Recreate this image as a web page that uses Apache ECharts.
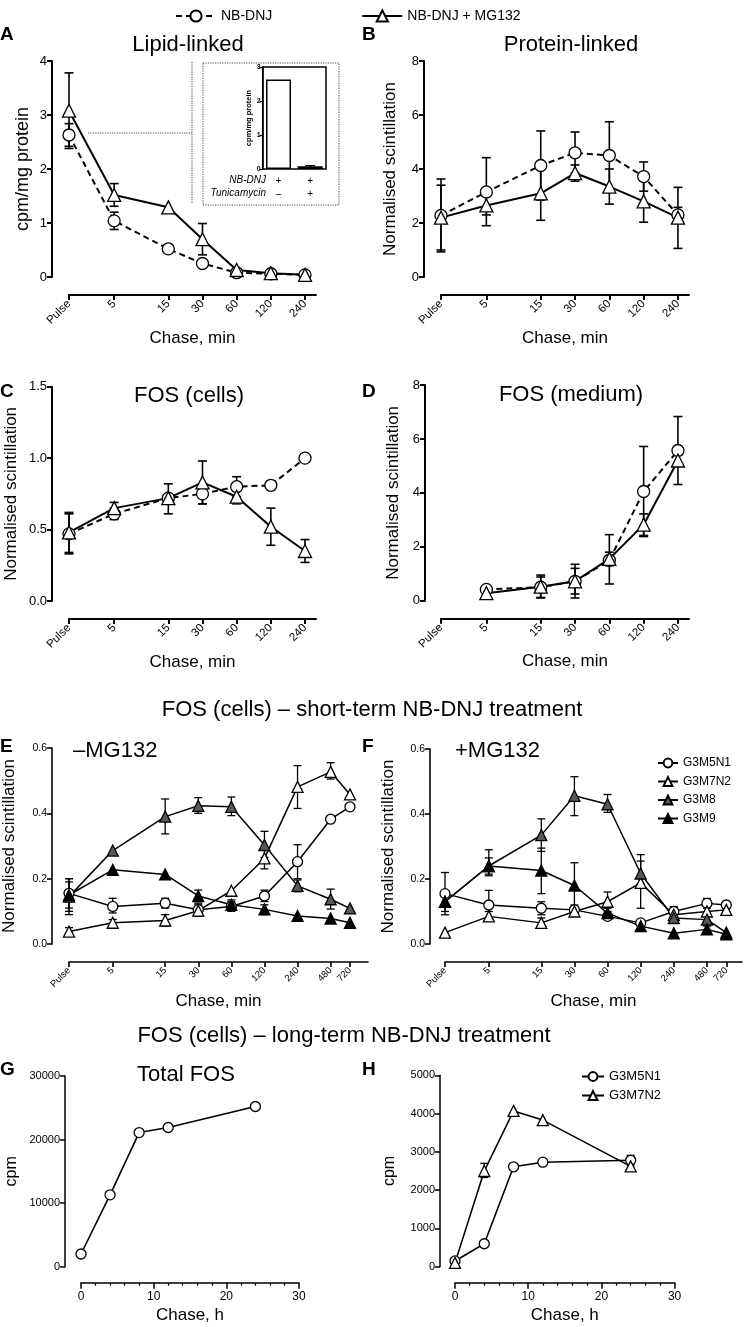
<!DOCTYPE html>
<html><head><meta charset="utf-8">
<script src="https://cdn.jsdelivr.net/npm/echarts@6/dist/echarts.min.js"></script>
<style>html,body{margin:0;padding:0;background:#fff}#c{width:744px;height:1327px}</style>
</head><body><div id="c"></div>
<script>
const FF = '"Liberation Sans", Arial, sans-serif';

// ---- time axes (minutes; "Pulse" is placed at 2 min on the log axis) ----
const chaseMin7 = [2, 5, 15, 30, 60, 120, 240];
const chaseLabels7 = ['Pulse', '5', '15', '30', '60', '120', '240'];
const chaseMin9 = [2, 5, 15, 30, 60, 120, 240, 480, 720];
const chaseLabels9 = ['Pulse', '5', '15', '30', '60', '120', '240', '480', '720'];

// ---- A: Lipid-linked ----
const lipidNB = [2.63, 1.04, 0.52, 0.25, 0.08, 0.06, 0.04];
const lipidNBErr = [[2.42, 2.84], [0.88, 1.2], [0.45, 0.59], [0.2, 0.3], null, null, null];
const lipidMG = [3.08, 1.52, 1.29, 0.70, 0.13, 0.07, 0.04];
const lipidMGErr = [[2.38, 3.78], [1.31, 1.73], null, [0.41, 0.99], null, null, null];
// inset
const insetNBDNJ = ['+', '+'];
const insetTunicamycin = ['–', '+'];
const insetValues = [2.63, 0.08];
const insetErr = [null, [0.06, 0.1]];

// ---- B: Protein-linked ----
const proteinNB = [2.28, 3.15, 4.13, 4.60, 4.50, 3.72, 2.30];
const proteinNBErr = [[0.93, 3.63], [1.9, 4.42], [2.85, 5.41], [3.85, 5.37], [3.25, 5.75], [3.18, 4.26], [2.02, 2.58]];
const proteinMG = [2.2, 2.65, 3.1, 3.85, 3.35, 2.8, 2.2];
const proteinMGErr = [[1.0, 3.4], [2.3, 3.0], [2.1, 4.1], [3.55, 4.15], [2.7, 4.0], [2.03, 3.57], [1.06, 3.32]];

// ---- C: FOS (cells) ----
const fosCellNB = [0.47, 0.61, 0.72, 0.75, 0.80, 0.81, 1.00];
const fosCellNBErr = [[0.33, 0.61], [0.57, 0.65], [0.70, 0.74], [0.68, 0.82], [0.73, 0.87], [0.78, 0.84], null];
const fosCellMG = [0.48, 0.65, 0.72, 0.83, 0.73, 0.52, 0.35];
const fosCellMGErr = [[0.34, 0.62], [0.60, 0.69], [0.61, 0.82], [0.68, 0.98], [0.68, 0.78], [0.39, 0.65], [0.27, 0.43]];

// ---- D: FOS (medium) ----
const fosMedNB = [null, 0.42, 0.50, 0.72, 1.50, 4.05, 5.57];
const fosMedNBErr = [null, null, [0.12, 0.88], [0.1, 1.35], [0.62, 2.45], [2.38, 5.72], [4.31, 6.83]];
const fosMedMG = [null, 0.28, 0.52, 0.72, 1.55, 2.82, 5.2];
const fosMedMGErr = [null, null, [0.1, 0.95], [0.25, 1.2], [1.3, 1.8], [2.42, 3.22], [5.0, 5.4]];

// ---- E: short-term, -MG132 ----
const e5N1 = [0.155, 0.115, 0.125, 0.105, 0.115, 0.147, 0.252, 0.382, 0.42];
const e5N1Err = [[0.11, 0.2], [0.095, 0.14], [0.11, 0.14], [0.085, 0.125], [0.1, 0.13], [0.13, 0.165], [0.2, 0.304], null, null];
const e7N2 = [0.038, 0.065, 0.072, 0.102, 0.163, 0.262, 0.481, 0.527, 0.458];
const e7N2Err = [[0.025, 0.05], [0.055, 0.075], [0.055, 0.09], [0.085, 0.12], null, [0.23, 0.29], [0.415, 0.546], [0.505, 0.555], null];
const e8 = [0.145, 0.286, 0.39, 0.423, 0.42, 0.303, 0.178, 0.137, 0.109];
const e8Err = [[0.1, 0.19], null, [0.337, 0.444], [0.4, 0.448], [0.393, 0.45], [0.265, 0.345], [0.16, 0.196], [0.107, 0.168], null];
const e9 = [0.15, 0.227, 0.213, 0.147, 0.12, 0.106, 0.086, 0.078, 0.065];
const e9Err = [[0.09, 0.2], null, null, [0.13, 0.165], [0.105, 0.135], [0.09, 0.12], null, null, null];

// ---- F: short-term, +MG132 ----
const f5N1 = [0.155, 0.12, 0.11, 0.105, 0.085, 0.065, 0.1, 0.125, 0.12];
const f5N1Err = [[0.09, 0.22], [0.075, 0.165], [0.09, 0.13], [0.09, 0.12], null, null, [0.085, 0.115], [0.11, 0.14], null];
const f7N2 = [0.035, 0.085, 0.065, 0.1, 0.13, 0.188, 0.09, 0.1, 0.105];
const f7N2Err = [null, [0.07, 0.1], [0.05, 0.08], [0.085, 0.115], [0.1, 0.16], [0.11, 0.255], [0.08, 0.11], [0.09, 0.12], null];
const f8 = [0.13, 0.24, 0.335, 0.456, 0.43, 0.217, 0.08, 0.075, 0.035];
const f8Err = [null, [0.21, 0.29], [0.285, 0.385], [0.395, 0.515], [0.405, 0.46], [0.185, 0.275], null, null, null];
const f9 = [0.13, 0.24, 0.226, 0.18, 0.095, 0.055, 0.033, 0.045, 0.03];
const f9Err = [[0.1, 0.16], [0.215, 0.265], [0.155, 0.295], [0.11, 0.25], [0.08, 0.11], [0.045, 0.065], null, [0.035, 0.055], null];

// ---- G / H: long-term ----
const chaseHours = [0, 4, 8, 12, 24];
const totalFOS = [2000, 11300, 21100, 21900, 25200];
const h5N1 = [150, 600, 2610, 2730, 2780];
const h5N1Err = [null, null, null, null, [2650, 2910]];
const h7N2 = [100, 2500, 4070, 3830, 2620];
const h7N2Err = [null, [2330, 2700], null, null, null];

// ================= helpers =================
function pairs(xs, ys) {
  const d = [];
  xs.forEach((x, i) => { if (ys[i] != null) d.push([x, ys[i]]); });
  return d;
}
function lineS(name, ax, xs, ys, symbol, size, fill, dashed, lw) {
  return {
    type: 'line', name, xAxisIndex: ax, yAxisIndex: ax, data: pairs(xs, ys),
    symbol, symbolSize: size, showAllSymbol: true, z: 3,
    itemStyle: { color: fill, borderColor: '#000', borderWidth: 1.3, opacity: 1 },
    lineStyle: { color: '#000', width: lw, type: dashed ? [6, 4] : 'solid' },
    emphasis: { disabled: true }
  };
}
function errS(ax, xs, errs, capW, lw) {
  const d = [];
  xs.forEach((x, i) => { if (errs[i]) d.push([x, errs[i][0], errs[i][1]]); });
  return {
    type: 'custom', xAxisIndex: ax, yAxisIndex: ax, data: d, z: 1, silent: true,
    encode: { x: 0, y: [1, 2] },
    renderItem(params, api) {
      const x = api.value(0);
      const lo = api.coord([x, api.value(1)]);
      const hi = api.coord([x, api.value(2)]);
      const w = capW / 2, st = { stroke: '#000', lineWidth: lw };
      return { type: 'group', children: [
        { type: 'line', shape: { x1: lo[0], y1: lo[1], x2: hi[0], y2: hi[1] }, style: st },
        { type: 'line', shape: { x1: lo[0] - w, y1: lo[1], x2: lo[0] + w, y2: lo[1] }, style: st },
        { type: 'line', shape: { x1: hi[0] - w, y1: hi[1], x2: hi[0] + w, y2: hi[1] }, style: st }
      ] };
    }
  };
}
function logX(grid, ticks, labels, max, fs, lw) {
  const map = {};
  ticks.forEach((t, i) => map[t] = labels[i]);
  return {
    type: 'log', logBase: 2, gridIndex: grid, min: 2, max, offset: 18,
    name: 'Chase, min', nameLocation: 'middle', nameGap: grid >= 4 ? 28 : 25,
    nameTextStyle: { fontSize: 17, color: '#000', fontFamily: FF },
    axisLine: { show: true, onZero: false, lineStyle: { color: '#000', width: lw } },
    axisTick: { show: true, customValues: ticks, length: 5, lineStyle: { color: '#000', width: lw } },
    axisLabel: { customValues: ticks, rotate: 45, fontSize: fs, color: '#000', fontFamily: FF, margin: 7,
      formatter: v => { const k = Math.round(v); return map[k] != null ? map[k] : ''; } },
    splitLine: { show: false }, minorTick: { show: false }, minorSplitLine: { show: false }
  };
}
function valY(grid, min, max, interval, name, nameGap, offset, fs, lw, dec, nameFs) {
  return {
    type: 'value', gridIndex: grid, min, max, interval, offset,
    name, nameLocation: 'middle', nameGap,
    nameTextStyle: { fontSize: nameFs || 17, color: '#000', fontFamily: FF },
    axisLine: { show: true, onZero: false, lineStyle: { color: '#000', width: lw } },
    axisTick: { show: true, length: 5, lineStyle: { color: '#000', width: lw } },
    axisLabel: { fontSize: fs, color: '#000', fontFamily: FF, margin: 5,
      formatter: v => dec ? v.toFixed(dec) : String(v) },
    splitLine: { show: false }
  };
}
function linX(grid, name) {
  return {
    type: 'value', gridIndex: grid, min: 0, max: 30, interval: 10, offset: 16,
    name, nameLocation: 'middle', nameGap: 24,
    nameTextStyle: { fontSize: 17, color: '#000', fontFamily: FF },
    axisLine: { show: true, onZero: false, lineStyle: { color: '#000', width: 1.5 } },
    axisTick: { show: true, length: 6, lineStyle: { color: '#000', width: 1.5 } },
    minorTick: { show: true, splitNumber: 5, length: 3, lineStyle: { color: '#000', width: 1.2 } },
    axisLabel: { fontSize: 12, color: '#000', fontFamily: FF, margin: 8 },
    splitLine: { show: false }
  };
}

const grids = [
  { left: 69, top: 61, width: 247, height: 216 },          // A
  { left: 441, top: 61, width: 248, height: 216 },         // B
  { left: 69, top: 386.7, width: 247, height: 214.3 },     // C
  { left: 441, top: 385, width: 248, height: 215.7 },      // D
  { left: 69, top: 748, width: 299, height: 196 },         // E
  { left: 445, top: 749, width: 297, height: 195 },        // F
  { left: 81, top: 1076, width: 218, height: 190.7 },      // G
  { left: 455, top: 1075.3, width: 219.6, height: 191.4 }, // H
  { left: 262.7, top: 67, width: 63.3, height: 102, show: true, borderColor: '#000', borderWidth: 1.5, backgroundColor: 'transparent' } // inset
].map(g => Object.assign({ outerBoundsMode: 'none', containLabel: false }, g));

const xAxes = [
  logX(0, chaseMin7, chaseLabels7, 300, 11.5, 2),
  logX(1, chaseMin7, chaseLabels7, 300, 11.5, 2),
  logX(2, chaseMin7, chaseLabels7, 300, 11.5, 2),
  logX(3, chaseMin7, chaseLabels7, 300, 11.5, 2),
  logX(4, chaseMin9, chaseLabels9, 1050, 9.5, 1.6),
  logX(5, chaseMin9, chaseLabels9, 1000, 9.5, 1.6),
  linX(6, 'Chase, h'),
  linX(7, 'Chase, h'),
  { type: 'category', gridIndex: 8, data: insetNBDNJ.map((v, i) => v + '\n' + insetTunicamycin[i]),
    axisLine: { show: false, onZero: false }, axisTick: { show: false },
    axisLabel: { fontSize: 10, color: '#000', fontFamily: FF, margin: 6, lineHeight: 13 } }
];
const yAxes = [
  valY(0, 0, 4, 1, 'cpm/mg protein', 20, 17, 13, 2, 0, 18),
  valY(1, 0, 8, 2, 'Normalised scintillation', 25, 17, 13, 2, 0),
  valY(2, 0, 1.5, 0.5, 'Normalised scintillation', 32, 17, 13, 2, 1),
  valY(3, 0, 8, 2, 'Normalised scintillation', 23, 16, 13, 2, 0),
  valY(4, 0, 0.6, 0.2, 'Normalised scintillation', 34, 17, 10.5, 1.6, 1),
  valY(5, 0, 0.6, 0.2, 'Normalised scintillation', 33, 15, 10.5, 1.6, 1),
  valY(6, 0, 30000, 10000, 'cpm', 45, 16, 11, 1.5, 0, 16),
  valY(7, 0, 5000, 1000, 'cpm', 42, 15, 11, 1.5, 0, 16),
  { type: 'value', gridIndex: 8, min: 0, max: 3, interval: 1,
    name: 'cpm/mg protein', nameLocation: 'middle', nameGap: 10,
    nameTextStyle: { fontSize: 7.5, fontWeight: 'bold', color: '#000', fontFamily: FF },
    axisLine: { show: true, onZero: false, lineStyle: { color: '#000', width: 1.5 } },
    axisTick: { show: true, length: 3, lineStyle: { color: '#000', width: 1.2 } },
    axisLabel: { fontSize: 7, fontWeight: 'bold', color: '#000', fontFamily: FF, margin: 2 },
    splitLine: { show: false } }
];

const WHITE = '#ffffff', GREY = '#595959', BLACK = '#000000';
const series = [
  // A
  errS(0, chaseMin7, lipidNBErr, 9, 1.6), errS(0, chaseMin7, lipidMGErr, 9, 1.6),
  lineS('NB-DNJ', 0, chaseMin7, lipidNB, 'circle', 12, WHITE, true, 2),
  lineS('NB-DNJ + MG132', 0, chaseMin7, lipidMG, 'triangle', 13, WHITE, false, 2),
  // B
  errS(1, chaseMin7, proteinNBErr, 9, 1.6), errS(1, chaseMin7, proteinMGErr, 9, 1.6),
  lineS('NB-DNJ', 1, chaseMin7, proteinNB, 'circle', 12, WHITE, true, 2),
  lineS('NB-DNJ + MG132', 1, chaseMin7, proteinMG, 'triangle', 13, WHITE, false, 2),
  // C
  errS(2, chaseMin7, fosCellNBErr, 9, 1.6), errS(2, chaseMin7, fosCellMGErr, 9, 1.6),
  lineS('NB-DNJ', 2, chaseMin7, fosCellNB, 'circle', 12, WHITE, true, 2),
  lineS('NB-DNJ + MG132', 2, chaseMin7, fosCellMG, 'triangle', 13, WHITE, false, 2),
  // D
  errS(3, chaseMin7, fosMedNBErr, 9, 1.6), errS(3, chaseMin7, fosMedMGErr, 9, 1.6),
  lineS('NB-DNJ', 3, chaseMin7, fosMedNB, 'circle', 12, WHITE, true, 2),
  lineS('NB-DNJ + MG132', 3, chaseMin7, fosMedMG, 'triangle', 13, WHITE, false, 2),
  // E
  errS(4, chaseMin9, e5N1Err, 8, 1.3), errS(4, chaseMin9, e7N2Err, 8, 1.3),
  errS(4, chaseMin9, e8Err, 8, 1.3), errS(4, chaseMin9, e9Err, 8, 1.3),
  lineS('G3M5N1', 4, chaseMin9, e5N1, 'circle', 10, WHITE, false, 1.5),
  lineS('G3M7N2', 4, chaseMin9, e7N2, 'triangle', 11, WHITE, false, 1.5),
  lineS('G3M8', 4, chaseMin9, e8, 'triangle', 11, GREY, false, 1.5),
  lineS('G3M9', 4, chaseMin9, e9, 'triangle', 11, BLACK, false, 1.5),
  // F
  errS(5, chaseMin9, f5N1Err, 8, 1.3), errS(5, chaseMin9, f7N2Err, 8, 1.3),
  errS(5, chaseMin9, f8Err, 8, 1.3), errS(5, chaseMin9, f9Err, 8, 1.3),
  lineS('G3M5N1', 5, chaseMin9, f5N1, 'circle', 10, WHITE, false, 1.5),
  lineS('G3M7N2', 5, chaseMin9, f7N2, 'triangle', 11, WHITE, false, 1.5),
  lineS('G3M8', 5, chaseMin9, f8, 'triangle', 11, GREY, false, 1.5),
  lineS('G3M9', 5, chaseMin9, f9, 'triangle', 11, BLACK, false, 1.5),
  // G
  lineS('Total FOS', 6, chaseHours, totalFOS, 'circle', 10, WHITE, false, 1.6),
  // H
  errS(7, chaseHours, h5N1Err, 8, 1.3), errS(7, chaseHours, h7N2Err, 8, 1.3),
  lineS('G3M5N1', 7, chaseHours, h5N1, 'circle', 10, WHITE, false, 1.6),
  lineS('G3M7N2', 7, chaseHours, h7N2, 'triangle', 11, WHITE, false, 1.6),
  // inset bars
  { type: 'bar', xAxisIndex: 8, yAxisIndex: 8, data: insetValues, barWidth: 25, z: 2,
    itemStyle: { color: '#fff', borderColor: '#000', borderWidth: 1.5 }, emphasis: { disabled: true } },
  { type: 'custom', xAxisIndex: 8, yAxisIndex: 8, z: 3, silent: true,
    data: insetErr.map((e, i) => e ? [i, e[0], e[1]] : null).filter(Boolean),
    renderItem(params, api) {
      const lo = api.coord([api.value(0), api.value(1)]);
      const hi = api.coord([api.value(0), api.value(2)]);
      const st = { stroke: '#000', lineWidth: 1.2 };
      return { type: 'group', children: [
        { type: 'line', shape: { x1: lo[0], y1: lo[1], x2: hi[0], y2: hi[1] }, style: st },
        { type: 'line', shape: { x1: hi[0] - 5, y1: hi[1], x2: hi[0] + 5, y2: hi[1] }, style: st }
      ] };
    } }
];

function txt(text, x, y, size, opts) {
  opts = opts || {};
  return { type: 'text', x, y, silent: true, z: 10, style: {
    text, fill: '#000',
    font: (opts.italic ? 'italic ' : '') + (opts.bold ? 'bold ' : '') + size + 'px ' + FF,
    textAlign: opts.align || 'center', textVerticalAlign: 'middle', verticalAlign: 'middle' } };
}
const dotted = { stroke: '#444', lineWidth: 1, lineDash: [1.2, 1.2] };
const graphics = [
  txt('A', 0, 35, 19, { bold: true, align: 'left' }), txt('B', 362, 35, 19, { bold: true, align: 'left' }),
  txt('C', 0, 392, 19, { bold: true, align: 'left' }), txt('D', 362, 392, 19, { bold: true, align: 'left' }),
  txt('E', 0, 747, 19, { bold: true, align: 'left' }), txt('F', 362, 747, 19, { bold: true, align: 'left' }),
  txt('G', 0, 1070, 19, { bold: true, align: 'left' }), txt('H', 362, 1070, 19, { bold: true, align: 'left' }),
  txt('Lipid-linked', 188, 45, 22), txt('Protein-linked', 571, 45, 22),
  txt('FOS (cells)', 189, 396, 22), txt('FOS (medium)', 571, 395, 22),
  txt('FOS (cells) – short-term NB-DNJ treatment', 372, 710, 22),
  txt('–MG132', 73, 751, 22, { align: 'left' }), txt('+MG132', 455, 751, 22, { align: 'left' }),
  txt('FOS (cells) – long-term NB-DNJ treatment', 344, 1036, 22),
  txt('Total FOS', 186, 1075, 22),
  txt('NB-DNJ', 266, 180, 10, { italic: true, align: 'right' }),
  txt('Tunicamycin', 266, 193, 10, { italic: true, align: 'right' }),
  { type: 'rect', shape: { x: 203, y: 63, width: 136, height: 142 }, style: Object.assign({ fill: 'none' }, dotted), silent: true },
  { type: 'line', shape: { x1: 192, y1: 62, x2: 192, y2: 203 }, style: dotted, silent: true },
  { type: 'line', shape: { x1: 88, y1: 133, x2: 192, y2: 133 }, style: dotted, silent: true }
];

const legends = [
  { data: ['NB-DNJ', 'NB-DNJ + MG132'], left: 170, top: 4, itemWidth: 40, itemHeight: 14, itemGap: 89,
    textStyle: { fontSize: 14, color: '#000', fontFamily: FF }, selectedMode: false },
  { data: ['G3M5N1', 'G3M7N2', 'G3M8', 'G3M9'], orient: 'vertical', left: 652, top: 752,
    itemWidth: 20, itemHeight: 11, itemGap: 6.5, textStyle: { fontSize: 12, color: '#000', fontFamily: FF }, selectedMode: false },
  { data: ['G3M5N1', 'G3M7N2'], orient: 'vertical', left: 576, top: 1065,
    itemWidth: 22, itemHeight: 11, itemGap: 6, textStyle: { fontSize: 13, color: '#000', fontFamily: FF }, selectedMode: false }
];

const chart = echarts.init(document.getElementById('c'), null, { renderer: 'canvas', width: 744, height: 1327 });
chart.setOption({
  animation: false,
  backgroundColor: '#fff',
  textStyle: { fontFamily: FF },
  grid: grids, xAxis: xAxes, yAxis: yAxes, series, legend: legends, graphic: graphics
});
</script></body></html>
